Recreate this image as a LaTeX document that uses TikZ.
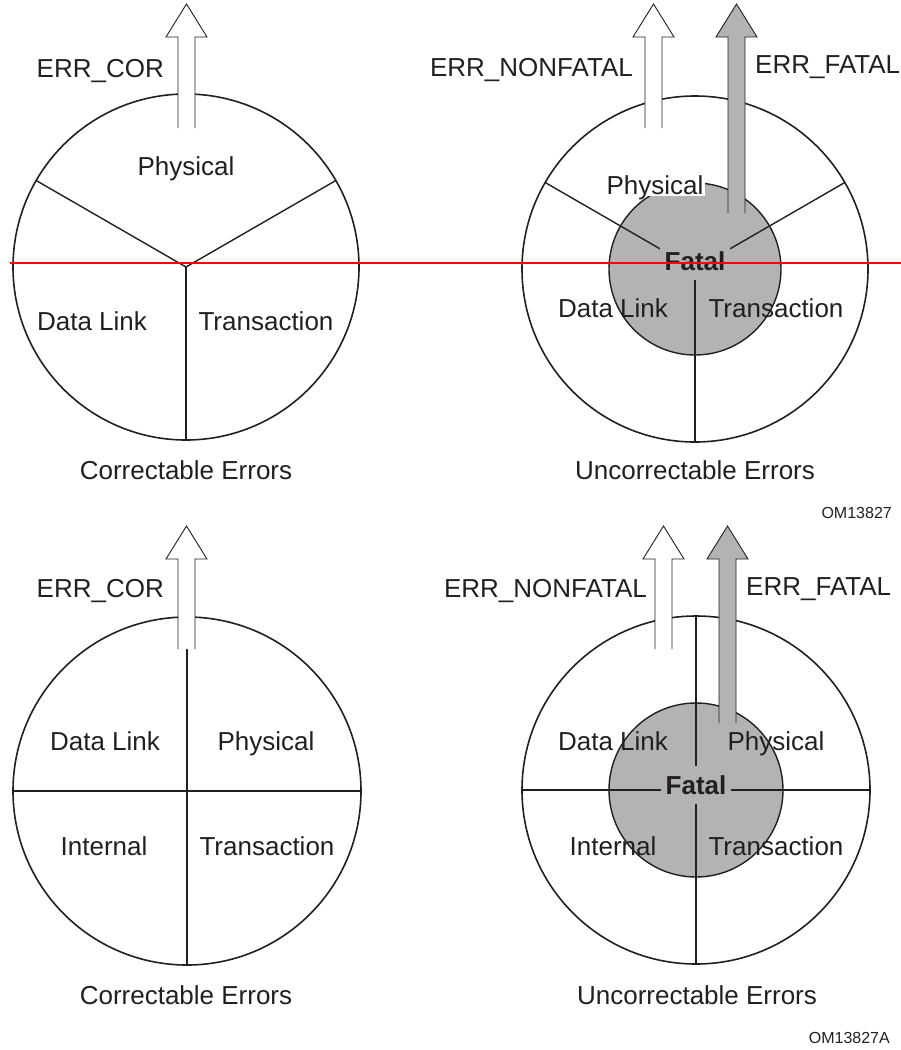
\documentclass[tikz,border=0pt]{standalone}
\usepackage{fontspec}
\setmainfont{Liberation Sans}
\usepackage{tikz}
\usetikzlibrary{positioning}
\definecolor{ink}{HTML}{231F20}
\definecolor{fatalgray}{HTML}{B3B3B3}
\tikzset{
  lbl/.style={font=\fontsize{26}{30}\selectfont,text=ink,inner sep=0pt,anchor=base},
  errl/.style={lbl,anchor=base east},
  errr/.style={lbl,anchor=base west},
  tag/.style={font=\fontsize{16}{19}\selectfont,text=ink,inner sep=0pt,anchor=base east},
  ring/.style={draw=ink,line width=1.6pt},
  spoke/.style={draw=ink,line width=1.4pt},
  arrowline/.style={draw=ink,line width=0.9pt,line join=miter},
  fatalbox/.style={font=\fontsize{26}{30}\selectfont\bfseries,text=ink,fill=fatalgray,inner xsep=5pt,inner ysep=9pt},
}
% block arrow: x, tip y, foot y, fill
\newcommand{\errarrow}[4]{%
  \fill[#4] ({#1-8.5},#3) -- ({#1-8.5},{#2+33}) -- ({#1-20.5},{#2+33}) -- (#1,#2)
    -- ({#1+20.5},{#2+33}) -- ({#1+8.5},{#2+33}) -- ({#1+8.5},#3) -- cycle;
  \draw[arrowline] ({#1-8.5},#3) -- ({#1-8.5},{#2+33}) -- ({#1-20.5},{#2+33}) -- (#1,#2)
    -- ({#1+20.5},{#2+33}) -- ({#1+8.5},{#2+33}) -- ({#1+8.5},#3);
}
\begin{document}
\begin{tikzpicture}[x=1pt,y=-1pt]
\useasboundingbox (0,0) rectangle (901,1050);
% circle centres
\coordinate (tl) at (186,267);
\coordinate (tr) at (695,269);
\coordinate (bl) at (187,791);
\coordinate (br) at (696,790);
% correctable, three layers
\draw[ring] (tl) circle (173);
\foreach \a in {210,330,90} \draw[spoke] (tl) -- ++(\a:173);
% uncorrectable, three layers
\draw[ring] (tr) circle (173);
\draw[draw=ink,line width=1.4pt,fill=fatalgray] (tr) circle (86);
\foreach \a in {210,330,90} \draw[spoke] (tr) -- ++(\a:173);
\node[fatalbox] (trfatal) at (695,261) {Fatal};
% correctable, four layers
\draw[ring] (bl) circle (174);
\foreach \a in {0,90,180,270} \draw[spoke] (bl) -- ++(\a:174);
% uncorrectable, four layers
\draw[ring] (br) circle (174);
\draw[draw=ink,line width=1.4pt,fill=fatalgray] (br) circle (87);
\foreach \a in {0,90,180,270} \draw[spoke] (br) -- ++(\a:174);
\node[fatalbox] (brfatal) at (696,785) {Fatal};
% layer names
\foreach \n/\x/\y/\t in {
  tlphy/186/175/Physical, tldl/92/330/Data Link, tltr/266/330/Transaction,
  trdl/613/317/Data Link, trtr/776/317/Transaction,
  bldl/105/750/Data Link, blphy/266/750/Physical, blint/104/855/Internal, bltr/267/855/Transaction,
  brdl/613/750/Data Link, brphy/776/750/Physical, brint/613/855/Internal, brtr/776/855/Transaction}{
  \node[lbl] (\n) at (\x,\y) {\t};
}
\node[lbl,fill=white,inner xsep=2pt,inner ysep=2pt,text depth=0pt] (trphy) at (655,194) {Physical};
% signals
\errarrow{186.5}{4}{128}{white}
\errarrow{653.5}{4}{128}{white}
\errarrow{736.5}{4}{213}{fatalgray}
\errarrow{186.5}{526}{649}{white}
\errarrow{663.5}{526}{649}{white}
\errarrow{727.5}{526}{723}{fatalgray}
\node[errl] (tlcor) at (164,77) {ERR\_COR};
\node[errl] (trnf) at (633,76) {ERR\_NONFATAL};
\node[errr] (trf) at (755,73) {ERR\_FATAL};
\node[errl] (blcor) at (164,597) {ERR\_COR};
\node[errl] (brnf) at (647,597) {ERR\_NONFATAL};
\node[errr] (brf) at (746,595) {ERR\_FATAL};
% captions
\node[lbl] (tlcap) at (186,479) {Correctable Errors};
\node[lbl] (trcap) at (695,479) {Uncorrectable Errors};
\node[lbl] (blcap) at (186,1004) {Correctable Errors};
\node[lbl] (brcap) at (697,1004) {Uncorrectable Errors};
\node[tag] (tnum) at (892,518) {OM13827};
\node[tag] (bnum) at (890,1043) {OM13827A};
% marker line
\draw[red,line width=1.8pt] (10,263) -- (901,263);
\end{tikzpicture}
\end{document}
